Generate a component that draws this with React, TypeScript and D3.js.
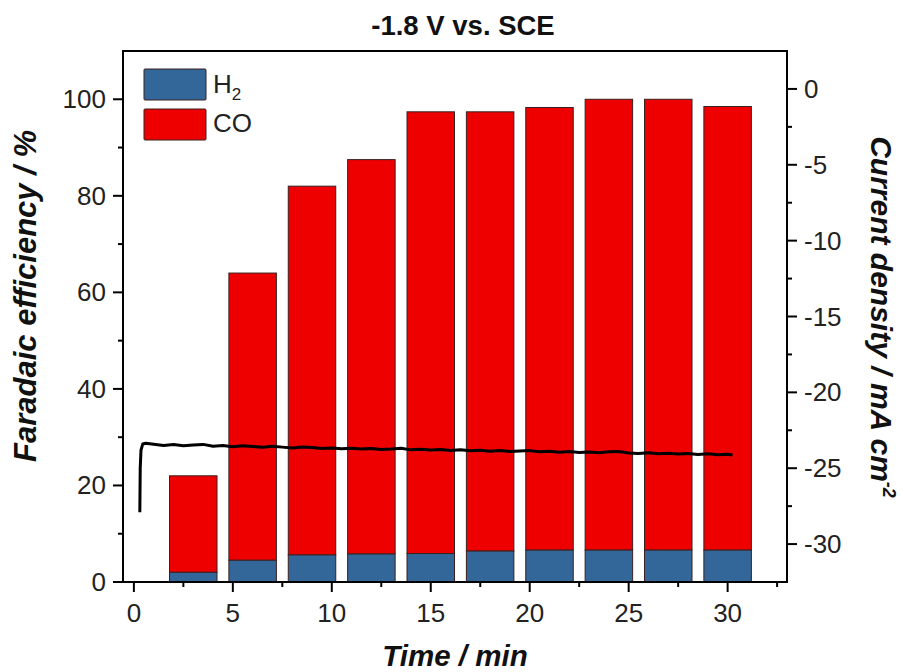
import React from "react";
import * as d3 from "d3";

// ---- data ----
const barTimes = [3, 6, 9, 12, 15, 18, 21, 24, 27, 30];
const h2FE = [2.0, 4.5, 5.6, 5.8, 5.9, 6.4, 6.6, 6.6, 6.6, 6.6];
const totalFE = [22.0, 64.0, 82.0, 87.5, 97.4, 97.4, 98.3, 100.0, 100.0, 98.5];

const lineTimes = [
  0.3, 0.32, 0.36, 0.45, 0.6, 1.0, 1.5, 2.0, 2.5, 3.0, 3.5, 4.0, 4.5, 5.0, 5.5, 6.0, 6.5, 7.0, 7.5, 8.0,
  8.5, 9.0, 9.5, 10.0, 10.5, 11.0, 11.5, 12.0, 12.5, 13.0, 13.5, 14.0, 14.5, 15.0, 15.5, 16.0, 16.5,
  17.0, 17.5, 18.0, 18.5, 19.0, 19.5, 20.0, 20.5, 21.0, 21.5, 22.0, 22.5, 23.0, 23.5, 24.0, 24.5,
  25.0, 25.5, 26.0, 26.5, 27.0, 27.5, 28.0, 28.5, 29.0, 29.5, 30.0, 30.25,
];
const lineCurrent = [
  -27.9, -25.0, -23.8, -23.4, -23.35, -23.42, -23.5, -23.44, -23.52, -23.47, -23.43, -23.55, -23.5,
  -23.58, -23.52, -23.57, -23.62, -23.56, -23.61, -23.66, -23.6, -23.64, -23.7, -23.66, -23.72,
  -23.68, -23.74, -23.7, -23.76, -23.73, -23.68, -23.79, -23.75, -23.8, -23.76, -23.83, -23.78,
  -23.85, -23.81, -23.88, -23.84, -23.9, -23.86, -23.84, -23.92, -23.88, -23.95, -23.9, -23.97,
  -23.93, -23.98, -23.92, -23.9, -23.99, -24.03, -23.98, -24.05, -24.01, -24.07, -24.03, -24.09,
  -24.05, -24.11, -24.08, -24.13,
];

const xMajorTicks = [0, 5, 10, 15, 20, 25, 30];
const xMinorTicks = [2.5, 7.5, 12.5, 17.5, 22.5, 27.5, 32.5];
const yLeftMajor = [0, 20, 40, 60, 80, 100];
const yLeftMinor = [10, 30, 50, 70, 90];
const yRightMajor = [0, -5, -10, -15, -20, -25, -30];
const yRightMinor = [-2.5, -7.5, -12.5, -17.5, -22.5, -27.5];

const titleText = "-1.8 V vs. SCE";
const xTitle = "Time / min";
const yLeftTitle = "Faradaic efficiency / %";

// ---- layout ----
const W = 902;
const H = 672;
const L = 123;
const R = 787;
const T = 51;
const B = 582;
const FONT = "'Liberation Sans', Arial, sans-serif";
const RED = "#EE0000";
const BLUE = "#336699";
const EDGE = "#3a2020";

export default function App() {
  const x = d3.scaleLinear().domain([-0.55, 33.0]).range([L, R]);
  const yL = d3.scaleLinear().domain([0, 110]).range([B, T]);
  const yR = d3.scaleLinear().domain([-32.5, 2.5]).range([B, T]);
  const barW = x(2.4) - x(0);

  const linePts: [number, number][] = lineTimes.map((t, i) => [t, lineCurrent[i]]);
  const lineGen = d3
    .line<[number, number]>()
    .x((d) => x(d[0]))
    .y((d) => yR(d[1]));

  return (
    <svg
      width={W}
      height={H}
      style={{ position: "fixed", left: 0, top: 0, background: "#fff" }}
      fontFamily={FONT}
    >
      <rect x={0} y={0} width={W} height={H} fill="#fff" />
      {/* bars */}
      {barTimes.map((t, i) => (
        <g key={t}>
          <rect
            x={x(t) - barW / 2}
            y={yL(totalFE[i])}
            width={barW}
            height={yL(h2FE[i]) - yL(totalFE[i])}
            fill={RED}
            stroke={EDGE}
            strokeWidth={1}
          />
          <rect
            x={x(t) - barW / 2}
            y={yL(h2FE[i])}
            width={barW}
            height={yL(0) - yL(h2FE[i])}
            fill={BLUE}
            stroke={EDGE}
            strokeWidth={1}
          />
        </g>
      ))}
      {/* current line */}
      <path d={lineGen(linePts) || ""} fill="none" stroke="#000" strokeWidth={3} strokeLinejoin="round" />

      {/* frame */}
      <rect x={L} y={T} width={R - L} height={B - T} fill="none" stroke="#000" strokeWidth={2} />

      {/* bottom axis ticks */}
      {xMajorTicks.map((v) => (
        <g key={"xm" + v}>
          <line x1={x(v)} x2={x(v)} y1={B} y2={B + 10} stroke="#000" strokeWidth={2} />
          <text x={x(v)} y={622} fontSize={26} textAnchor="middle" fill="#222">
            {v}
          </text>
        </g>
      ))}
      {xMinorTicks.map((v) => (
        <line key={"xn" + v} x1={x(v)} x2={x(v)} y1={B} y2={B + 5} stroke="#000" strokeWidth={2} />
      ))}

      {/* left axis */}
      {yLeftMajor.map((v) => (
        <g key={"ylm" + v}>
          <line x1={L - 10} x2={L} y1={yL(v)} y2={yL(v)} stroke="#000" strokeWidth={2} />
          <text x={106} y={yL(v) + 9} fontSize={26} textAnchor="end" fill="#222">
            {v}
          </text>
        </g>
      ))}
      {yLeftMinor.map((v) => (
        <line key={"yln" + v} x1={L - 5} x2={L} y1={yL(v)} y2={yL(v)} stroke="#000" strokeWidth={2} />
      ))}

      {/* right axis */}
      {yRightMajor.map((v) => (
        <g key={"yrm" + v}>
          <line x1={R} x2={R + 10} y1={yR(v)} y2={yR(v)} stroke="#000" strokeWidth={2} />
          <text x={804} y={yR(v) + 9} fontSize={26} textAnchor="start" fill="#222">
            {v}
          </text>
        </g>
      ))}
      {yRightMinor.map((v) => (
        <line key={"yrn" + v} x1={R} x2={R + 5} y1={yR(v)} y2={yR(v)} stroke="#000" strokeWidth={2} />
      ))}

      {/* titles */}
      <text x={463} y={35} fontSize={27.5} fontWeight="bold" textAnchor="middle" fill="#111">
        {titleText}
      </text>
      <text x={455} y={666} fontSize={29.5} fontWeight="bold" fontStyle="italic" textAnchor="middle" fill="#111">
        {xTitle}
      </text>
      <text
        transform="translate(36,296) rotate(-90)"
        fontSize={31}
        fontWeight="bold"
        fontStyle="italic"
        textAnchor="middle"
        fill="#111"
      >
        {yLeftTitle}
      </text>
      <text
        transform="translate(871,317) rotate(90)"
        fontSize={30}
        fontWeight="bold"
        fontStyle="italic"
        textAnchor="middle"
        fill="#111"
      >
        Current density / mA cm
        <tspan fontSize={18} dy={-12}>
          -2
        </tspan>
      </text>

      {/* legend */}
      <rect x={144} y={69} width={62} height={31} fill={BLUE} stroke={EDGE} strokeWidth={1} rx={1} />
      <rect x={144} y={109} width={62} height={31} fill={RED} stroke={EDGE} strokeWidth={1} rx={1} />
      <text x={213} y={93} fontSize={26} fill="#222">
        H<tspan fontSize={17} dy={7}>2</tspan>
      </text>
      <text x={213} y={132} fontSize={26} fill="#222">
        CO
      </text>
    </svg>
  );
}
